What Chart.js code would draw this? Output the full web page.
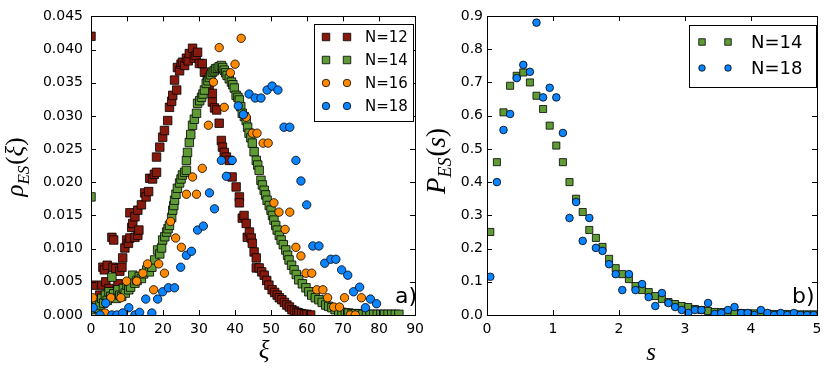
<!DOCTYPE html>
<html><head><meta charset="utf-8">
<script src="https://cdn.jsdelivr.net/npm/chart.js@4"></script>
<style>
html,body{margin:0;padding:0;background:#fff;}
#wrap{position:relative;width:830px;height:378px;overflow:hidden;background:#fff;}
#c1{position:absolute;left:0;top:0;}
#c2{position:absolute;left:415px;top:0;}
</style></head><body>
<div id="wrap"><canvas id="c1" width="430" height="378"></canvas><canvas id="c2" width="415" height="378"></canvas></div>
<script>
// ---------- panel a) : rho_ES(xi) ----------
const n12 = [[0,0.042],[0.6,0.0045],[1.2,0.0015],[1.8,0.0022],[2.4,0.0030],[3.0,0.0045],[3.3,0.0072],[3.7,0.0068],[4.1,0.0050],[4.5,0.0075],[5.0,0.0040],[5.5,0.0035],[5.8,0.0117],[6.1,0.0072],[6.3,0.0113],[6.9,0.0070],[7.5,0.0047],[8.0,0.0066],[8.6,0.0072],[8.8,0.0086],[9.4,0.0101],[9.9,0.0113],[10.4,0.0108],[10.8,0.0116],[10.8,0.0154],[11.3,0.0132],[11.6,0.0138],[12.2,0.0117],[12.2,0.0148],[13.0,0.0120],[13.0,0.0158],[13.3,0.0128],[14.0,0.0166],[14.9,0.0184],[15.3,0.0178],[16.0,0.0186],[16.3,0.0206],[17.1,0.0205],[17.6,0.0212],[18.2,0.0215],[18.2,0.0238],[19.1,0.0253],[19.9,0.0268],[20.4,0.0278],[21.3,0.0293],[21.8,0.0313],[22.4,0.0322],[22.7,0.0331],[23.2,0.0354],[23.8,0.0339],[24.0,0.0373],[24.6,0.0368],[25.0,0.0378],[25.4,0.0381],[26.0,0.0376],[26.5,0.0387],[27.0,0.0383],[27.3,0.0394],[28.2,0.0402],[28.7,0.0387],[29.2,0.0391],[29.6,0.0396],[30.1,0.0379],[30.9,0.0379],[31.5,0.0366],[32.3,0.0354],[32.8,0.0343],[33.7,0.0334],[33.7,0.0321],[34.3,0.0312],[34.9,0.0309],[35.6,0.0289],[36.2,0.0263],[36.5,0.0253],[37.0,0.0245],[37.6,0.0238],[38.4,0.0233],[39.2,0.0208],[40.3,0.0193],[41.2,0.0178],[41.2,0.0169],[42.0,0.0146],[42.5,0.0150],[43.1,0.0138],[43.4,0.0117],[44.0,0.0125],[44.5,0.0116],[44.8,0.0108],[45.3,0.0095],[45.9,0.0086],[45.9,0.0071],[46.7,0.0071],[47.4,0.0065],[48.1,0.0060],[48.8,0.0052],[49.4,0.0045],[50.3,0.0038],[51.0,0.0034],[51.7,0.0030],[52.3,0.0026],[53.0,0.0023],[53.7,0.0019],[54.4,0.0015],[55.1,0.0012],[55.8,0.0008],[56.5,0.0006],[57.2,0.0004],[57.7,0.0003],[58.5,0.0002],[59.3,0.0001],[60.0,0.0001],[61.0,0.0000]];
const n14 = [[0,0.0178],[0.5,0.0012],[1,0.0008],[1.5,0.0020],[2,0.0010],[2.5,0.0015],[3,0.0025],[3.5,0.0018],[4,0.0030],[4.5,0.0022],[5,0.0035],[5.5,0.0028],[5.8,0.0057],[6.3,0.0032],[7,0.0025],[7.5,0.0038],[8,0.0030],[8.5,0.0028],[9,0.0040],[9.5,0.0033],[10,0.0045],[10.5,0.0038],[11,0.0042],[11.6,0.0060],[12.2,0.0048],[12.8,0.0052],[13.4,0.0058],[14,0.0055],[14.6,0.0062],[15.5,0.0068],[16.2,0.0065],[16.9,0.0072],[17.7,0.0083],[18.5,0.0098],[19.1,0.0092],[19.6,0.0101],[19.9,0.0113],[20.5,0.0118],[21.0,0.0125],[21.4,0.0130],[21.8,0.0135],[22.4,0.0147],[22.7,0.0158],[23.0,0.0165],[23.2,0.0173],[23.6,0.0182],[24.0,0.0191],[24.6,0.0199],[25.0,0.0205],[25.4,0.0211],[26.0,0.0215],[26.5,0.0218],[26.5,0.0233],[26.8,0.0245],[27.3,0.0260],[27.7,0.0272],[28.2,0.0286],[28.7,0.0295],[29.3,0.0304],[29.6,0.0319],[30.2,0.0323],[30.7,0.0328],[31.1,0.0333],[31.5,0.0339],[32.0,0.0349],[32.5,0.0353],[32.9,0.0358],[33.3,0.0362],[33.7,0.0366],[34.2,0.0368],[34.6,0.0371],[35.1,0.0372],[35.6,0.0374],[36.2,0.0376],[36.6,0.0373],[37.0,0.0369],[37.4,0.0365],[37.8,0.0361],[38.4,0.0356],[39.0,0.0351],[39.4,0.0347],[39.8,0.0342],[40.3,0.0331],[40.8,0.0328],[41.2,0.0324],[41.6,0.0314],[42.0,0.0304],[42.6,0.0299],[43.1,0.0293],[43.5,0.0283],[43.9,0.0274],[44.4,0.0267],[44.8,0.0259],[45.3,0.0246],[45.9,0.0233],[46.3,0.0226],[46.7,0.0218],[47.2,0.0203],[47.6,0.0196],[48.1,0.0188],[48.5,0.0181],[48.9,0.0173],[49.5,0.0165],[50.0,0.0158],[50.4,0.0150],[50.8,0.0143],[51.3,0.0135],[51.7,0.0128],[52.3,0.0120],[52.8,0.0113],[53.4,0.0106],[54.1,0.0098],[54.6,0.0090],[55.0,0.0083],[55.7,0.0075],[56.4,0.0068],[57.0,0.0061],[57.7,0.0053],[58.7,0.0047],[59.7,0.0041],[60.5,0.0035],[61.3,0.0030],[62.3,0.0026],[63.3,0.0023],[64.2,0.0019],[65.2,0.0015],[66.0,0.0013],[66.9,0.0011],[67.8,0.0008],[68.8,0.0005],[69.7,0.0004],[70.6,0.0003],[71.5,0.0003],[72.5,0.0002],[73.5,0.0002],[74.5,0.0002],[75.5,0.0001],[76.5,0.0001],[77.5,0.0001],[78.5,0.0001],[79.5,0.0001],[80.5,0.0001],[81.5,0.0001],[82.5,0.0001],[83.5,0.0001],[84.5,0.0001],[85.5,0.0001]];
const n16 = [[0.5,0.0026],[3.9,0.0003],[5.5,0.0026],[8.3,0.0026],[9.9,0.0051],[12.7,0.0051],[14.4,0.0063],[15.7,0.0077],[17.4,0.0038],[18.8,0.0077],[20.4,0.0063],[22.1,0.0141],[23.5,0.0116],[25.1,0.0102],[26.5,0.0182],[28.2,0.0208],[29.3,0.0182],[30.9,0.0221],[32.6,0.0286],[34.0,0.0351],[35.6,0.0403],[37.0,0.0313],[38.7,0.0365],[40.0,0.0378],[41.7,0.0417],[43.1,0.0298],[44.8,0.0274],[46.1,0.0274],[47.8,0.0259],[49.2,0.0259],[50.8,0.0169],[52.2,0.0155],[53.9,0.0129],[55.2,0.0155],[56.9,0.0102],[58.3,0.0089],[59.7,0.0063],[61.3,0.0063],[62.7,0.0038],[64.4,0.0038],[65.7,0.0026],[67.4,0.0012],[69.0,0.0012],[70.4,0.0026],[72.0,0.0000],[73.4,0.0000],[75.1,0.0026]];
const n18 = [[0.6,0.0011],[2.5,0.0000],[4.1,0.0018],[5.8,0.0000],[7.2,0.0000],[8.8,0.0003],[10.5,0.0011],[12.2,0.0000],[13.5,0.0004],[15.2,0.0024],[16.9,0.0003],[18.5,0.0024],[19.9,0.0035],[21.5,0.0041],[23.2,0.0041],[24.9,0.0072],[26.5,0.0090],[27.9,0.0096],[29.6,0.0128],[31.2,0.0134],[32.9,0.0184],[34.3,0.0160],[36.2,0.0233],[37.6,0.0209],[39.2,0.0233],[40.9,0.0315],[42.3,0.0302],[43.9,0.0333],[45.6,0.0327],[47.2,0.0327],[48.9,0.0339],[50.3,0.0345],[51.9,0.0339],[53.6,0.0283],[55.2,0.0283],[56.9,0.0233],[58.3,0.0202],[59.9,0.0166],[61.6,0.0104],[63.3,0.0104],[64.9,0.0078],[66.6,0.0084],[68.0,0.0084],[69.6,0.0068],[71.3,0.0060],[72.9,0.0035],[74.6,0.0042],[76.2,0.0011],[77.6,0.0024],[79.3,0.0017]];

// ---------- panel b) : P_ES(s) ----------
const s14 = [0.05,0.15,0.25,0.35,0.45,0.55,0.65,0.75,0.85,0.95,1.05,1.15,1.25,1.35,1.45,1.55,1.65,1.75,1.85,1.95,2.05,2.15,2.25,2.35,2.45,2.55,2.65,2.75,2.85,2.95,3.05,3.15,3.25,3.35,3.45,3.55,3.65,3.75,3.85,3.95,4.05,4.15,4.25,4.35,4.45,4.55,4.65,4.75,4.85,4.95];
const p14 = [0.25,0.46,0.61,0.69,0.72,0.73,0.70,0.66,0.62,0.57,0.51,0.46,0.40,0.35,0.31,0.256,0.232,0.205,0.169,0.141,0.123,0.108,0.087,0.075,0.069,0.057,0.048,0.039,0.033,0.027,0.024,0.018,0.015,0.012,0.009,0.009,0.008,0.007,0.006,0.005,0.005,0.004,0.004,0.003,0.003,0.003,0.002,0.002,0.002,0.002];
const s18 = s14.slice();
const p18 = [0.115,0.40,0.557,0.605,0.713,0.753,0.732,0.88,0.655,0.684,0.655,0.548,0.292,0.34,0.223,0.292,0.202,0.193,0.153,0.123,0.075,0.123,0.075,0.093,0.054,0.027,0.066,0.036,0.024,0.015,0.006,0.015,0.015,0.036,0.003,0.006,0.015,0.024,0.006,0.006,0.0,0.015,0.006,0.0,0.006,0.0,0.006,0.0,0.0,0.0];

const labelsA = ['N=12','N=14','N=16','N=18'];
const labelsB = ['N=14','N=18'];
const RED = '#871a0d', GREEN = '#5e9b35', ORANGE = '#ff8a00', BLUE = '#0a84ff';

Chart.defaults.font.family = '"DejaVu Sans", sans-serif';
Chart.defaults.font.size = 14;
Chart.defaults.color = '#000';

const pairs = a => a.map(p => ({x:p[0], y:p[1]}));
const zip = (xs, ys) => xs.map((x,i) => ({x:x, y:ys[i]}));

function drawMarker(ctx, style, color, x, y, size){
  ctx.save();
  ctx.fillStyle = color; ctx.strokeStyle = '#000'; ctx.lineWidth = 0.8;
  ctx.beginPath();
  if (style === 'rect') ctx.rect(x - size/2, y - size/2, size, size);
  else ctx.arc(x, y, size/2, 0, Math.PI*2);
  ctx.fill(); ctx.stroke();
  ctx.restore();
}

function drawMath(ctx, parts, cx, cy, rot){
  ctx.save();
  ctx.translate(cx, cy);
  if (rot) ctx.rotate(-Math.PI/2);
  let total = 0;
  parts.forEach(p => { ctx.font = p.f; p.w = ctx.measureText(p.t).width; total += p.w + (p.gap||0); });
  let x = -total/2;
  ctx.fillStyle = '#000';
  ctx.textBaseline = 'alphabetic';
  parts.forEach(p => { ctx.font = p.f; ctx.fillText(p.t, x, (p.dy||0)); x += p.w + (p.gap||0); });
  ctx.restore();
}

function framePlugin(cfg){
  return {
    id: 'frame',
    afterDraw(chart){
      const ctx = chart.ctx, a = chart.chartArea, xs = chart.scales.x, ys = chart.scales.y;
      ctx.save();
      ctx.strokeStyle = '#000'; ctx.lineWidth = 1;
      ctx.beginPath();
      xs.ticks.forEach(t => { const p = Math.round(xs.getPixelForValue(t.value)) + 0.5;
        ctx.moveTo(p, a.bottom); ctx.lineTo(p, a.bottom - 5); ctx.moveTo(p, a.top); ctx.lineTo(p, a.top + 5); });
      ys.ticks.forEach(t => { const p = Math.round(ys.getPixelForValue(t.value)) + 0.5;
        ctx.moveTo(a.left, p); ctx.lineTo(a.left + 5, p); ctx.moveTo(a.right, p); ctx.lineTo(a.right - 5, p); });
      ctx.stroke();
      ctx.strokeRect(Math.round(a.left) + 0.5, Math.round(a.top) + 0.5, Math.round(a.right - a.left), Math.round(a.bottom - a.top));
      // legend
      const L = cfg.legend;
      ctx.fillStyle = '#fff';
      ctx.fillRect(L.x0, L.y0, L.x1 - L.x0, L.y1 - L.y0);
      ctx.strokeRect(L.x0 + 0.5, L.y0 + 0.5, L.x1 - L.x0, L.y1 - L.y0);
      L.items.forEach((it, i) => {
        const y = L.row0 + i * L.dy;
        drawMarker(ctx, it.style, it.color, L.m1, y, it.size);
        drawMarker(ctx, it.style, it.color, L.m2, y, it.size);
        ctx.fillStyle = '#000'; ctx.font = L.font; ctx.textBaseline = 'middle'; ctx.textAlign = 'left';
        ctx.fillText(it.label, L.tx, y + 1);
      });
      // panel tag
      ctx.font = '22px "DejaVu Sans"'; ctx.textBaseline = 'alphabetic'; ctx.textAlign = 'left'; ctx.fillStyle = '#000';
      ctx.fillText(cfg.tag.t, cfg.tag.x, cfg.tag.y);
      drawMath(ctx, cfg.ylab.parts, cfg.ylab.x, cfg.ylab.y, true);
      drawMath(ctx, cfg.xlab.parts, cfg.xlab.x, cfg.xlab.y, false);
      ctx.restore();
    }
  };
}

const SERIF = '"Liberation Serif", "DejaVu Serif", serif';
function ds(label, data, style, color, r, order){
  return {label, data, pointStyle: style, pointRadius: r, pointHoverRadius: r,
    backgroundColor: color, borderColor: '#000', borderWidth: 0.8, showLine: false, order};
}

function axisOpts(min, max, step, fmt, fitW, fitH, pad, isX){
  return {type: 'linear', min, max,
    ticks: {stepSize: step, padding: pad, callback: v => fmt(v), autoSkip: false, maxRotation: 0, font: {size: 14}},
    grid: {display: false, drawTicks: false}, border: {display: false},
    afterFit: s => { if (isX) s.height = fitH; else s.width = fitW; }};
}

new Chart(document.getElementById('c1'), {
  type: 'scatter',
  data: {datasets: [
    ds(labelsA[0], pairs(n12), 'rect', RED, 6, 4),
    ds(labelsA[1], pairs(n14), 'rect', GREEN, 6, 3),
    ds(labelsA[2], pairs(n16), 'circle', ORANGE, 4.2, 2),
    ds(labelsA[3], pairs(n18), 'circle', BLUE, 4.2, 1)
  ]},
  options: {
    responsive: false, animation: false, devicePixelRatio: 1,
    layout: {padding: {left: 0, top: 16, right: 13, bottom: 0}},
    plugins: {legend: {display: false}, tooltip: {enabled: false}},
    scales: {
      x: axisOpts(0, 90, 10, v => String(Math.round(v)), 0, 63, 6, true),
      y: axisOpts(0, 0.045, 0.005, v => v.toFixed(3), 91, 0, 8, false)
    }
  },
  plugins: [framePlugin({
    legend: {x0: 314, y0: 24, x1: 413, y1: 121, row0: 37, dy: 23, m1: 326, m2: 347, tx: 365, font: '15px "DejaVu Sans"',
      items: [{label: labelsA[0], style: 'rect', color: RED, size: 7.5}, {label: labelsA[1], style: 'rect', color: GREEN, size: 7.5},
              {label: labelsA[2], style: 'circle', color: ORANGE, size: 7.5}, {label: labelsA[3], style: 'circle', color: BLUE, size: 7.5}]},
    tag: {t: 'a)', x: 395, y: 303},
    ylab: {x: 23, y: 167, parts: [{t: 'ρ', f: 'italic 25px ' + SERIF}, {t: 'ES', f: 'italic 17px ' + SERIF, dy: 6, gap: 1}, {t: '(', f: '25px ' + SERIF}, {t: 'ξ', f: 'italic 25px ' + SERIF}, {t: ')', f: '25px ' + SERIF}]},
    xlab: {x: 264, y: 358, parts: [{t: 'ξ', f: 'italic 25px ' + SERIF}]}
  })]
});

new Chart(document.getElementById('c2'), {
  type: 'scatter',
  data: {datasets: [
    ds(labelsB[0], zip(s14, p14), 'rect', GREEN, 5, 2),
    ds(labelsB[1], zip(s18, p18), 'circle', BLUE, 3.8, 1)
  ]},
  options: {
    responsive: false, animation: false, devicePixelRatio: 1,
    layout: {padding: {left: 0, top: 16, right: 13, bottom: 0}},
    plugins: {legend: {display: false}, tooltip: {enabled: false}},
    scales: {
      x: axisOpts(0, 5, 1, v => String(Math.round(v)), 0, 63, 6, true),
      y: axisOpts(0, 0.9, 0.1, v => v.toFixed(1), 72, 0, 4, false)
    }
  },
  plugins: [framePlugin({
    legend: {x0: 274, y0: 25, x1: 401, y1: 87, row0: 42, dy: 26, m1: 287, m2: 313, tx: 336, font: '18px "DejaVu Sans"',
      items: [{label: labelsB[0], style: 'rect', color: GREEN, size: 6.5}, {label: labelsB[1], style: 'circle', color: BLUE, size: 6.5}]},
    tag: {t: 'b)', x: 377, y: 303},
    ylab: {x: 30, y: 161, parts: [{t: 'P', f: 'italic 27px ' + SERIF}, {t: 'ES', f: 'italic 18px ' + SERIF, dy: 6, gap: 1}, {t: '(', f: '27px ' + SERIF}, {t: 's', f: 'italic 27px ' + SERIF}, {t: ')', f: '27px ' + SERIF}]},
    xlab: {x: 236, y: 360, parts: [{t: 's', f: 'italic 25px ' + SERIF}]}
  })]
});
</script>
</body></html>
